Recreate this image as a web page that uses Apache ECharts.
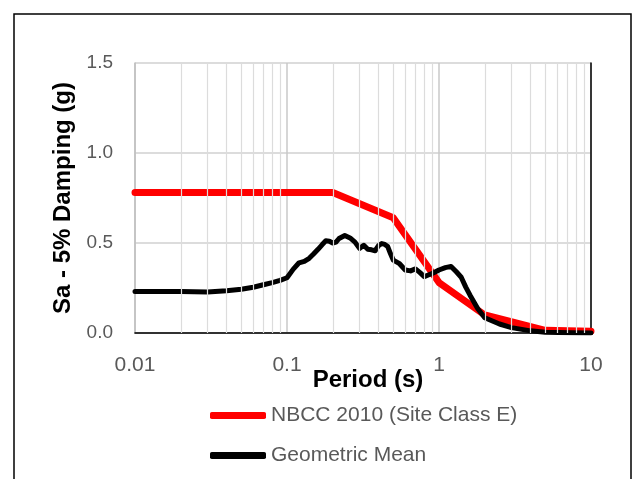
<!DOCTYPE html>
<html>
<head>
<meta charset="utf-8">
<script src="https://cdn.jsdelivr.net/npm/echarts@6/dist/echarts.min.js"></script>
<style>html,body{margin:0;padding:0;background:#fff;}#c{width:634px;height:479px;}</style>
</head>
<body>
<div id="c"></div>
<script>
// ---- data ----
const nbccPeriods = [0.01, 0.2, 0.5, 1.0, 2.0, 5.0, 10.0];
const nbccSa      = [0.78, 0.78, 0.64, 0.28, 0.10, 0.015, 0.01];

const gmPeriods = [0.01, 0.02, 0.03, 0.04, 0.05, 0.06, 0.07, 0.08, 0.09, 0.1,
  0.11, 0.12, 0.13, 0.14, 0.15, 0.16, 0.17, 0.18, 0.19, 0.2, 0.21, 0.22, 0.24, 0.26, 0.28,
  0.3, 0.32, 0.34, 0.36, 0.38, 0.4, 0.42, 0.44, 0.46, 0.48, 0.5, 0.55, 0.6, 0.65, 0.7,
  0.75, 0.8, 0.85, 0.9, 0.95, 1.0, 1.1, 1.2, 1.3, 1.4, 1.5, 1.6, 1.8, 2.0, 2.5, 3.0,
  4.0, 5.0, 7.5, 10];
const gmSa = [0.23, 0.23, 0.228, 0.235, 0.243, 0.254, 0.268, 0.28, 0.292, 0.307,
  0.355, 0.39, 0.398, 0.415, 0.44, 0.465, 0.49, 0.512, 0.51, 0.50, 0.505, 0.525, 0.542, 0.528, 0.505,
  0.47, 0.487, 0.465, 0.462, 0.457, 0.485, 0.497, 0.492, 0.48, 0.44, 0.405, 0.385, 0.35, 0.345, 0.356,
  0.335, 0.313, 0.322, 0.33, 0.34, 0.35, 0.363, 0.37, 0.34, 0.31, 0.255, 0.21, 0.135, 0.085, 0.05, 0.03,
  0.012, 0.004, 0.001, 0.0];

const xTickLabels = ['0.01', '0.1', '1', '10'];
const yTickLabels = ['0.0', '0.5', '1.0', '1.5'];
const minorGridPeriods = [0.02,0.03,0.04,0.05,0.06,0.07,0.08,0.09,
  0.2,0.3,0.4,0.5,0.6,0.7,0.8,0.9, 2,3,4,5,6,7,8,9];

const seriesNames = ['NBCC 2010 (Site Class E)', 'Geometric Mean'];

// ---- chart ----
const zip = (a, b) => a.map((v, i) => [v, b[i]]);
const chart = echarts.init(document.getElementById('c'), null, {renderer: 'canvas'});
const font = 'Liberation Sans, Arial, sans-serif';
chart.setOption({
  animation: false,
  backgroundColor: '#fff',
  graphic: [{
    type: 'rect', shape: {x: 14, y: 14, width: 617, height: 480},
    style: {fill: 'none', stroke: '#000', lineWidth: 1.5}, z: 100
  }],
  grid: {left: 135, right: 43, top: 63, bottom: 146},
  legend: {
    orient: 'vertical', left: 205, top: 400,
    data: seriesNames, itemWidth: 56, itemHeight: 7, itemGap: 19,
    icon: 'roundRect',
    textStyle: {fontFamily: font, fontSize: 21, color: '#595959'}
  },
  xAxis: [{
    type: 'log', logBase: 10, min: 0.01, max: 10,
    name: 'Period (s)', nameLocation: 'middle', nameGap: 35, nameMoveOverlap: false,
    nameTextStyle: {fontFamily: font, fontSize: 24, fontWeight: 'bold', color: '#000', padding: [0, 0, 0, 10]},
    axisLine: {show: true, lineStyle: {color: '#bfbfbf', width: 1.5}},
    axisTick: {show: false},
    axisLabel: {
      fontFamily: font, fontSize: 21, color: '#595959', margin: 22,
      formatter: v => xTickLabels[Math.round(Math.log10(v)) + 2]
    },
    splitLine: {show: true, lineStyle: {color: '#c8c8c8', width: 1.5}}
  }, {
    type: 'log', logBase: 10, min: 0.01, max: 10, position: 'top',
    axisLine: {show: true, lineStyle: {color: '#000', width: 1.5}},
    axisTick: {show: false}, axisLabel: {show: false}, splitLine: {show: false}
  }],
  yAxis: [{
    type: 'value', min: 0, max: 1.5, interval: 0.5,
    name: 'Sa - 5% Damping (g)', nameLocation: 'middle', nameGap: 60,
    nameTextStyle: {fontFamily: font, fontSize: 24, fontWeight: 'bold', color: '#000'},
    axisLine: {show: true, lineStyle: {color: '#bfbfbf', width: 1.5}},
    axisTick: {show: false},
    axisLabel: {
      fontFamily: font, fontSize: 19, color: '#595959', margin: 22,
      formatter: v => yTickLabels[Math.round(v / 0.5)]
    },
    splitLine: {show: true, lineStyle: {color: '#d0d0d0', width: 1.5}}
  }, {
    type: 'value', min: 0, max: 1.5, interval: 0.5, position: 'right',
    axisLine: {show: true, lineStyle: {color: '#000', width: 1.5}},
    axisTick: {show: false}, axisLabel: {show: false}, splitLine: {show: false}
  }],
  series: [{
    type: 'line', name: '_minor', data: [], z: 1, silent: true,
    markLine: {
      silent: true, symbol: ['none', 'none'], label: {show: false},
      lineStyle: {color: '#dcdcdc', width: 1.2, type: 'solid'},
      data: minorGridPeriods.map(p => ({xAxis: p}))
    }
  }, {
    type: 'line', name: seriesNames[0], data: zip(nbccPeriods, nbccSa),
    showSymbol: false, symbol: 'none', color: '#ff0000',
    lineStyle: {width: 7, color: '#ff0000', cap: 'round', join: 'round'}, z: 3
  }, {
    type: 'line', name: seriesNames[1], data: zip(gmPeriods, gmSa),
    showSymbol: false, symbol: 'none', color: '#000000',
    lineStyle: {width: 5, color: '#000000', cap: 'round', join: 'round'}, z: 4
  }]
});
</script>
</body>
</html>
